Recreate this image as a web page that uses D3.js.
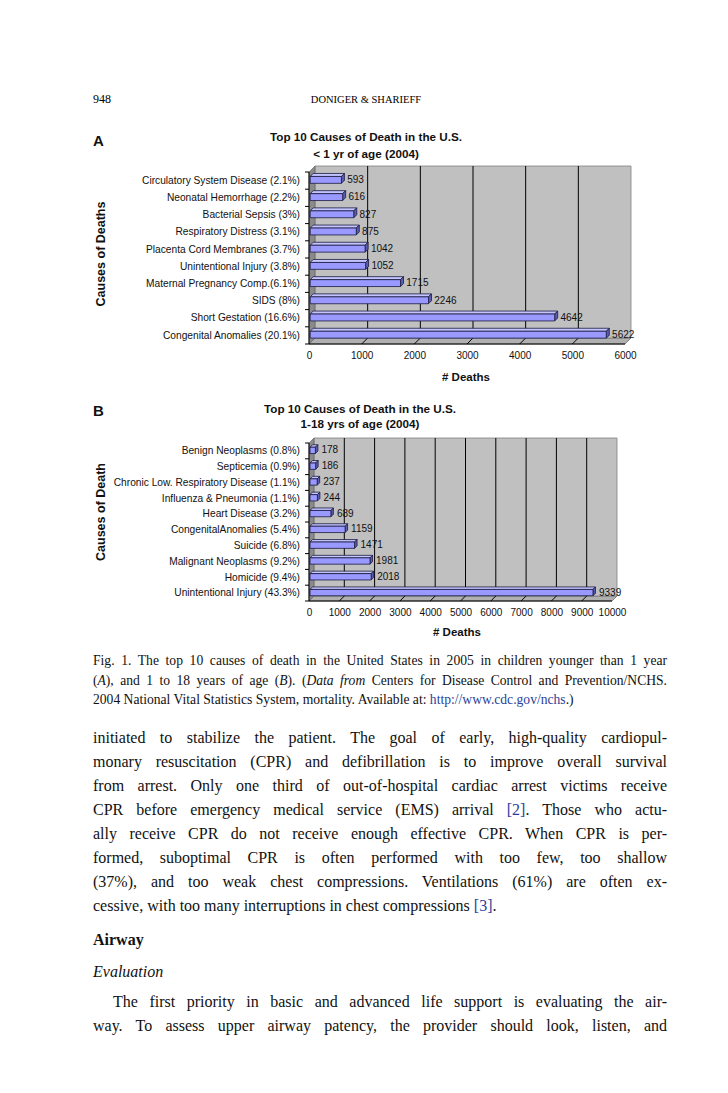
<!DOCTYPE html>
<html><head><meta charset="utf-8">
<script src="https://cdn.jsdelivr.net/npm/d3@7"></script>
<style>
html,body{margin:0;padding:0;background:#fff;}
svg{display:block;}
</style></head>
<body>
<script>
// ---------------- DATA ----------------
const categoriesA = ["Circulatory System Disease (2.1%)","Neonatal Hemorrhage (2.2%)","Bacterial Sepsis (3%)","Respiratory Distress (3.1%)","Placenta Cord Membranes (3.7%)","Unintentional Injury (3.8%)","Maternal Pregnancy Comp.(6.1%)","SIDS (8%)","Short Gestation (16.6%)","Congenital Anomalies (20.1%)"];
const valuesA = [593,616,827,875,1042,1052,1715,2246,4642,5622];
const ticksA = [0,1000,2000,3000,4000,5000,6000];

const categoriesB = ["Benign Neoplasms (0.8%)","Septicemia (0.9%)","Chronic Low. Respiratory Disease (1.1%)","Influenza & Pneumonia (1.1%)","Heart Disease (3.2%)","CongenitalAnomalies (5.4%)","Suicide (6.8%)","Malignant Neoplasms (9.2%)","Homicide (9.4%)","Unintentional Injury (43.3%)"];
const valuesB = [178,186,237,244,689,1159,1471,1981,2018,9339];
const ticksB = [0,1000,2000,3000,4000,5000,6000,7000,8000,9000,10000];

const titleA = ["Top 10 Causes of Death in the U.S.","< 1 yr of age (2004)"];
const titleB = ["Top 10 Causes of Death in the U.S.","1-18 yrs of age (2004)"];

// ---------------- PAGE ----------------
const W = 728, H = 1093;
const SANS = "'Liberation Sans', Arial, sans-serif";
const SERIF = "'Liberation Serif', 'Times New Roman', serif";
const svg = d3.select("body").append("svg").attr("width", W).attr("height", H);

// header
svg.append("text").attr("x", 93).attr("y", 103).attr("font-family", SERIF).attr("font-size", 12).text("948");
svg.append("text").attr("x", 366).attr("y", 103).attr("text-anchor","middle").attr("font-family", SERIF).attr("font-size", 10.5).text("DONIGER & SHARIEFF");

function drawChart(o){
  const g = svg.append("g");
  const x = d3.scaleLinear().domain([0, o.max]).range([o.x0, o.x1]);
  const y = d3.scaleBand().domain(o.cats).range([o.top, o.bottom]);
  const D = o.depth;
  const P = (v, yy, d) => [x(v) + d*D, yy - d*D];
  const poly = pts => "M" + pts.map(p => p.join(",")).join("L") + "Z";

  // floor
  g.append("path").attr("d", poly([P(0,o.bottom,0),P(0,o.bottom,1),P(o.max,o.bottom,1),P(o.max,o.bottom,0)]))
    .attr("fill","#b0b0b0").attr("stroke","#707070").attr("stroke-width",0.8);
  // back wall
  g.append("path").attr("d", poly([P(0,o.top,1),P(o.max,o.top,1),P(o.max,o.bottom,1),P(0,o.bottom,1)]))
    .attr("fill","#c0c0c0").attr("stroke","#808080").attr("stroke-width",0.8);
  // left wall
  g.append("path").attr("d", poly([P(0,o.top,0),P(0,o.top,1),P(0,o.bottom,1),P(0,o.bottom,0)]))
    .attr("fill","#8a8a8a").attr("stroke","#606060").attr("stroke-width",0.6);

  // gridlines on wall + floor
  o.ticks.filter(t => t > 0 && t < o.max).forEach(t => {
    g.append("path").attr("d", "M" + P(t,o.top,1) + "L" + P(t,o.bottom,1) + "L" + P(t,o.bottom,0))
      .attr("fill","none").attr("stroke","#000").attr("stroke-width",1);
  });

  // bars
  const hh = y.bandwidth() * 0.2, d1 = 0.2, d2 = 0.7;
  o.cats.forEach((c, i) => {
    const v = o.vals[i];
    const cy = y(c) + y.bandwidth()/2 + 0.5;
    const t = cy - hh, b = cy + hh;
    const bg = g.append("g").attr("stroke","#1a1a40").attr("stroke-width",0.8).attr("stroke-linejoin","round");
    bg.append("path").attr("d", poly([P(0,t,d1),P(0,t,d2),P(v,t,d2),P(v,t,d1)])).attr("fill","#c4c4ff");
    bg.append("path").attr("d", poly([P(v,t,d1),P(v,t,d2),P(v,b,d2),P(v,b,d1)])).attr("fill","#5c5cb0");
    bg.append("path").attr("d", poly([P(0,t,d1),P(v,t,d1),P(v,b,d1),P(0,b,d1)])).attr("fill","#9999ff");
    g.append("text").attr("x", x(v) + o.lblOff).attr("y", cy - 1.5).attr("dy","0.35em")
      .attr("font-family", SANS).attr("font-size", 10).attr("fill","#111").text(v);
  });

  // axes lines
  g.append("line").attr("x1", x(0)).attr("x2", x(0)).attr("y1", o.top).attr("y2", o.bottom).attr("stroke","#000");
  g.append("line").attr("x1", x(0)).attr("x2", x(o.max)).attr("y1", o.bottom).attr("y2", o.bottom).attr("stroke","#000");
  // category boundary ticks
  d3.range(o.cats.length + 1).forEach(i => {
    const yy = o.top + i * y.step();
    g.append("line").attr("x1", x(0) - 4).attr("x2", x(0)).attr("y1", yy).attr("y2", yy).attr("stroke","#000");
  });

  // category labels via axis
  const ay = g.append("g").attr("transform", `translate(${x(0)},0)`)
    .call(d3.axisLeft(y).tickSize(0).tickPadding(9));
  ay.select(".domain").remove();
  ay.selectAll("text").attr("font-family", SANS).attr("font-size", 10.2).attr("fill","#111");

  // value axis labels
  const ax = g.append("g").attr("transform", `translate(0,${o.bottom})`)
    .call(d3.axisBottom(x).tickValues(o.ticks).tickSize(0).tickPadding(8).tickFormat(d3.format("d")));
  ax.select(".domain").remove();
  ax.selectAll("text").attr("font-family", SANS).attr("font-size", 10).attr("fill","#111");

  // titles
  o.title.forEach((t, i) => {
    g.append("text").attr("x", o.titleX).attr("y", o.titleY + i * o.titleGap).attr("text-anchor","middle")
      .attr("font-family", SANS).attr("font-weight","bold").attr("font-size", 11.7).attr("fill","#111").text(t);
  });
  g.append("text").attr("x", 93).attr("y", o.letterY).attr("font-family", SANS).attr("font-weight","bold")
    .attr("font-size", 15).attr("fill","#111").text(o.letter);
  g.append("text").attr("x", o.xTitleX).attr("y", o.xTitleY).attr("text-anchor","middle")
    .attr("font-family", SANS).attr("font-weight","bold").attr("font-size", 11.5).attr("fill","#111").text("# Deaths");
  g.append("text").attr("transform", `translate(105,${o.yTitleY}) rotate(-90)`).attr("text-anchor","middle")
    .attr("font-family", SANS).attr("font-weight","bold").attr("font-size", 12.5).attr("fill","#111").text(o.yTitle);
}

drawChart({cats: categoriesA, vals: valuesA, ticks: ticksA, max: 6000, x0: 309, x1: 625, top: 172, bottom: 344, depth: 6,
  lblOff: 7, title: titleA, titleX: 366, titleY: 141, titleGap: 17, letter: "A", letterY: 146,
  xTitleX: 466, xTitleY: 381, yTitle: "Causes of Deaths", yTitleY: 254});
drawChart({cats: categoriesB, vals: valuesB, ticks: ticksB, max: 10000, x0: 309, x1: 612, top: 443, bottom: 601, depth: 5,
  lblOff: 7, title: titleB, titleX: 360, titleY: 413, titleGap: 15, letter: "B", letterY: 416,
  xTitleX: 457, xTitleY: 636, yTitle: "Causes of Death", yTitleY: 512});

// ---------------- TEXT ----------------
const LINK = "#2a3f9a";
function line(y, parts, opts){
  const t = svg.append("text").attr("x", opts.x || 93).attr("y", y).attr("font-family", SERIF)
    .attr("font-size", opts.size).attr("fill","#111");
  parts.forEach(p => {
    const s = typeof p === "string" ? {t:p} : p;
    const ts = t.append("tspan").text(s.t);
    if (s.i) ts.attr("font-style","italic");
    if (s.b) ts.attr("font-weight","bold");
    if (s.link) ts.attr("fill", LINK);
  });
  if (opts.justify) {
    const width = 667 - (opts.x || 93);
    const len = t.node().getComputedTextLength();
    const spaces = (t.node().textContent.match(/ /g) || []).length;
    if (spaces) t.attr("word-spacing", (width - len) / spaces);
  }
  return t;
}
const cap = {size: 13.6, justify: true};
line(665, ["Fig. 1. The top 10 causes of death in the United States in 2005 in children younger than 1 year"], cap);
line(684.5, ["(", {t:"A", i:1}, "), and 1 to 18 years of age (", {t:"B", i:1}, "). (", {t:"Data from", i:1}, " Centers for Disease Control and Prevention/NCHS."], cap);
line(704, ["2004 National Vital Statistics System, mortality. Available at: ", {t:"http://www.cdc.gov/nchs", link:1}, ".)"], {size: 13.6});

const body = {size: 16, justify: true};
const bodyLines = [
  ["initiated to stabilize the patient. The goal of early, high-quality cardiopul-"],
  ["monary resuscitation (CPR) and defibrillation is to improve overall survival"],
  ["from arrest. Only one third of out-of-hospital cardiac arrest victims receive"],
  ["CPR before emergency medical service (EMS) arrival ", {t:"[2]", link:1}, ". Those who actu-"],
  ["ally receive CPR do not receive enough effective CPR. When CPR is per-"],
  ["formed, suboptimal CPR is often performed with too few, too shallow"],
  ["(37%), and too weak chest compressions. Ventilations (61%) are often ex-"]
];
bodyLines.forEach((l, i) => line(743 + i * 24, l, body));
line(743 + 7 * 24, ["cessive, with too many interruptions in chest compressions ", {t:"[3]", link:1}, "."], {size: 16});

line(945, [{t:"Airway", b:1}], {size: 16});
line(977, [{t:"Evaluation", i:1}], {size: 16});
line(1007, ["The first priority in basic and advanced life support is evaluating the air-"], {size: 16, justify: true, x: 113});
line(1031, ["way. To assess upper airway patency, the provider should look, listen, and"], body);
</script>
</body></html>
